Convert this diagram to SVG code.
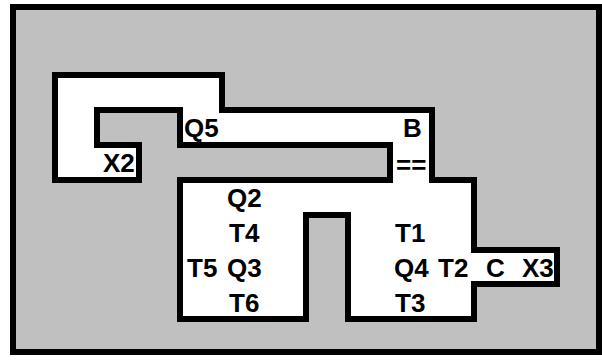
<svg xmlns="http://www.w3.org/2000/svg" width="602" height="361" viewBox="0 0 602 361">
<style>
.frame{fill:#c0c0c0;stroke:#000;stroke-width:6}
.room{fill:#fff;stroke:#000;stroke-width:6;stroke-linejoin:miter}
text{font-family:"Liberation Sans",Arial,sans-serif;font-weight:bold;font-size:26px;fill:#000}
</style>
<rect width="602" height="361" fill="#fff"/>
<rect class="frame" x="13" y="7" width="586" height="345"/>
<g id="plan">
<path class="room" d="M55,75 H222 V110 H432 V180 H474 V250 H557 V284 H474 V319 H348 V215 H306 V319 H180 V180 H390 V145 H180 V110 H97 V145 H139 V180 H55 Z"/>
</g>
<g id="labels">
<g id="Q5"><text x="184" y="137">Q5</text></g>
<g id="B"><text x="403" y="137">B</text></g>
<g id="eq"><text x="396" y="174">==</text></g>
<g id="X2"><text x="103" y="172">X2</text></g>
<g id="Q2"><text x="227" y="207">Q2</text></g>
<g id="T4"><text x="229" y="242">T4</text></g>
<g id="T5"><text x="187" y="277">T5</text></g>
<g id="Q3"><text x="227" y="277">Q3</text></g>
<g id="T6"><text x="229" y="312">T6</text></g>
<g id="T1"><text x="395" y="242">T1</text></g>
<g id="Q4"><text x="394" y="277">Q4</text></g>
<g id="T2"><text x="438" y="277">T2</text></g>
<g id="C"><text x="486" y="277">C</text></g>
<g id="X3"><text x="522" y="277">X3</text></g>
<g id="T3"><text x="395" y="312">T3</text></g>
</g>
</svg>
